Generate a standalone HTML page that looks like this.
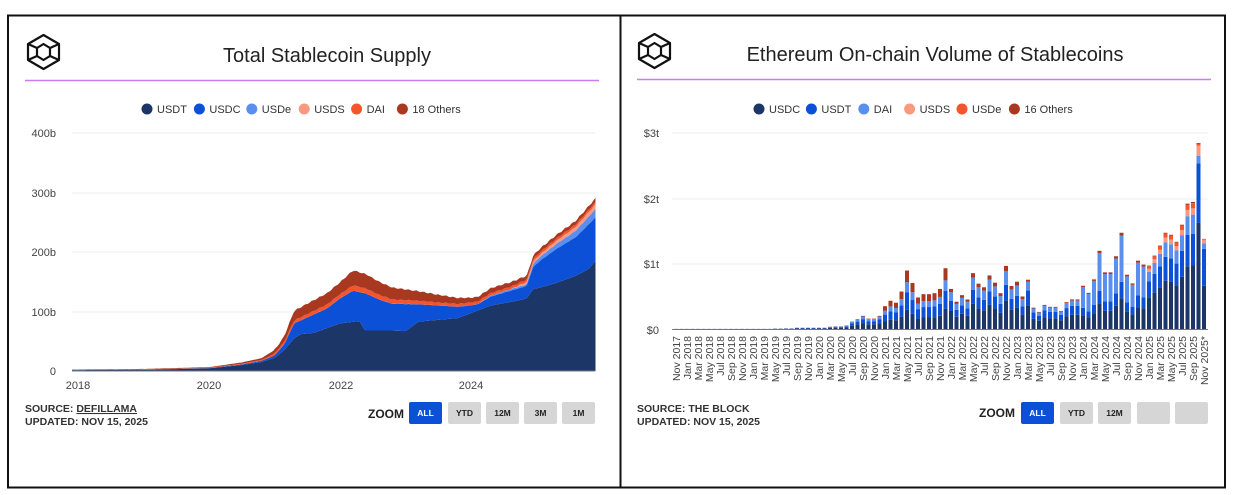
<!DOCTYPE html>
<html><head><meta charset="utf-8"><style>
html,body{margin:0;padding:0;background:#fff;width:1238px;height:495px;overflow:hidden;font-family:"Liberation Sans",Arial,sans-serif}
svg text{font-family:"Liberation Sans",Arial,sans-serif}
</style></head><body>
<svg id="s" width="1238" height="495" viewBox="0 0 1238 495" xmlns="http://www.w3.org/2000/svg">
<rect x="0" y="0" width="1238" height="495" fill="#fff"/>
<rect x="8" y="15.5" width="1217" height="472" fill="none" stroke="#111" stroke-width="2"/>
<line x1="620.5" y1="15" x2="620.5" y2="488" stroke="#111" stroke-width="2"/>
<g id="logoL" fill="none" stroke="#111" stroke-width="2.2" stroke-linejoin="round">
<polygon points="43.5,35 59,44 59,60 43.5,69 28,60 28,44"/>
<polygon points="43.5,44 50,48 50,56 43.5,60 37,56 37,48"/>
<line x1="28" y1="44" x2="37" y2="48"/><line x1="59" y1="44" x2="50" y2="48"/>
<line x1="28" y1="60" x2="37" y2="56"/><line x1="59" y1="60" x2="50" y2="56"/>
</g>
<use href="#logoL" x="611" y="-1"/>
<text x="327" y="62" font-size="20" text-anchor="middle" fill="#222">Total Stablecoin Supply</text>
<text x="935" y="61" font-size="20" text-anchor="middle" fill="#222">Ethereum On-chain Volume of Stablecoins</text>
<line x1="25" y1="80.5" x2="599" y2="80.5" stroke="#c77cf2" stroke-width="1.5"/>
<line x1="637" y1="79.5" x2="1211" y2="79.5" stroke="#c77cf2" stroke-width="1.5"/>
<g id="legL"></g><g id="legR"></g>
<g stroke="#eee" stroke-width="1">
<line x1="72" y1="133" x2="595" y2="133"/><line x1="72" y1="193" x2="595" y2="193"/>
<line x1="72" y1="252" x2="595" y2="252"/><line x1="72" y1="312" x2="595" y2="312"/>
<line x1="672" y1="133" x2="1208" y2="133"/><line x1="672" y1="199" x2="1208" y2="199"/>
<line x1="672" y1="264" x2="1208" y2="264"/>
</g>
<g font-size="11" fill="#444" text-anchor="end">
<text x="56" y="137">400b</text><text x="56" y="197">300b</text><text x="56" y="256">200b</text><text x="56" y="316">100b</text><text x="56" y="375">0</text>
<text x="659" y="137">$3t</text><text x="659" y="203">$2t</text><text x="659" y="268">$1t</text><text x="659" y="334">$0</text>
</g>
<g font-size="11" fill="#444" text-anchor="middle">
<text x="78" y="389">2018</text><text x="209" y="389">2020</text><text x="341" y="389">2022</text><text x="471" y="389">2024</text>
</g>
<g id="areas"></g>
<line x1="72" y1="371" x2="595" y2="371" stroke="#777" stroke-width="1"/>
<g id="bars"></g>
<line x1="672" y1="329.5" x2="1208" y2="329.5" stroke="#777" stroke-width="1"/>
<g id="xl" font-size="10.5" fill="#444" text-anchor="end"></g>
<g font-size="10.5" font-weight="bold" fill="#333">
<text x="25" y="412">SOURCE: <tspan text-decoration="underline">DEFILLAMA</tspan></text>
<text x="25" y="425">UPDATED: NOV 15, 2025</text>
<text x="637" y="412">SOURCE: THE BLOCK</text>
<text x="637" y="425">UPDATED: NOV 15, 2025</text>
</g>
<g font-size="12" font-weight="bold" fill="#222">
<text x="368" y="418">ZOOM</text><text x="979" y="417">ZOOM</text>
</g>
<g id="btns" font-size="8.5" font-weight="bold" text-anchor="middle"></g>
</svg>
<script>
var NS="http://www.w3.org/2000/svg";
function el(p,t,a,txt){var e=document.createElementNS(NS,t);for(var k in a)e.setAttribute(k,a[k]);if(txt!=null)e.textContent=txt;p.appendChild(e);return e;}
var C=["#1c3668","#0b50d6","#5a8ff0","#f99a80","#f4552c","#a93820"];
function legend(g,x,names){var cx=x;names.forEach(function(n,i){el(g,"circle",{cx:cx,cy:109,r:5.5,fill:C[i]});el(g,"text",{x:cx+10,y:113,"font-size":11,fill:"#333"},n);cx+=10+n.length*6.6+16;});}
legend(document.getElementById("legL"),147,["USDT","USDC","USDe","USDS","DAI","18 Others"]);
legend(document.getElementById("legR"),759,["USDC","USDT","DAI","USDS","USDe","16 Others"]);
var B=document.getElementById("btns");
[[409,"ALL",1],[448,"YTD"],[486,"12M"],[524,"3M"],[562,"1M"],[1021,"ALL",1],[1060,"YTD"],[1098,"12M"],[1137,""],[1175,""]].forEach(function(b){
el(B,"rect",{x:b[0],y:402,width:33,height:22,rx:2,fill:b[2]?"#0b50d6":"#d6d6d6"});
el(B,"text",{x:b[0]+16.5,y:416,fill:b[2]?"#fff":"#222"},b[1]);});
function interp(pts,t){if(t<=pts[0][0])return pts[0][1];for(var i=1;i<pts.length;i++){if(t<=pts[i][0]){var a=pts[i-1],b=pts[i];return a[1]+(b[1]-a[1])*(t-a[0])/(b[0]-a[0]);}}return pts[pts.length-1][1];}
var usdt=[[-0.1,1.5],[1,2],[2,4.5],[2.5,10],[2.8,15],[3,22],[3.15,35],[3.3,55],[3.4,62],[3.6,64],[3.8,72],[4,80],[4.3,84],[4.38,68],[4.8,68],[5,67],[5.2,83],[5.8,89],[6.3,110],[6.7,118],[6.85,122],[6.95,138],[7.05,140],[7.3,148],[7.6,160],[7.8,172],[7.9,185]];
var usdc=[[-0.1,1.7],[1,2.3],[2,5],[2.5,11],[2.8,17],[3,26],[3.15,45],[3.3,80],[3.5,90],[3.8,105],[4,122],[4.2,135],[4.4,130],[4.6,120],[4.8,113],[5.2,112],[5.8,108],[6.1,112],[6.3,125],[6.7,138],[6.85,143],[6.95,175],[7.05,185],[7.3,205],[7.6,225],[7.9,258]];
var usde=[[-0.1,0],[6.1,0],[6.3,2],[6.85,3],[7.0,6],[7.5,10],[7.9,14]];
var usds=[[-0.1,0],[6.6,0],[6.8,3],[7.3,5],[7.9,8]];
var dai=[[-0.1,0.2],[2,0.5],[2.8,1.5],[3.3,5],[4,7],[4.2,9],[4.8,7],[5.5,5],[6.3,4],[7,4],[7.9,4]];
var oth=[[-0.1,0.6],[2,1],[2.8,3],[3.1,8],[3.3,16],[3.6,18],[4,20],[4.2,25],[4.4,24],[4.8,20],[5.5,13],[6,8],[6.5,8],[7,6],[7.9,6]];
var layers=[usdt,usdc,usde,usds,dai,oth];
var A=document.getElementById("areas");var N=260,t0=-0.092,t1=7.9;
var prev=[];for(var i=0;i<=N;i++)prev.push(0);
layers.forEach(function(L,li){var cur=[];for(var i=0;i<=N;i++){var t=t0+(t1-t0)*i/N;var v=interp(L,t);var j=Math.sin(i*1.7)*0.8*(t>3?1:0.1);
 if(li==0)cur.push(v);else if(li==1)cur.push(Math.max(prev[i],v+j*0.3));else cur.push(prev[i]+Math.max(0,v+j*0.3));}
var d="";for(var i=0;i<=N;i++){var t=t0+(t1-t0)*i/N;d+=(i?"L":"M")+(78+65.5*t).toFixed(1)+","+(371-cur[i]*0.595).toFixed(1);}
for(var i=N;i>=0;i--){var t=t0+(t1-t0)*i/N;d+="L"+(78+65.5*t).toFixed(1)+","+(371-prev[i]*0.595).toFixed(1);}
el(A,"path",{d:d+"Z",fill:C[li]});prev=cur;});
var tot=[2,2,2,2,2,2,2,2,2,2,2,2,2,2,2,2,2,2,8,8,10,10,20,20,20,20,20,20,35,40,40,55,112,150,200,158,158,200,347,430,400,570,890,700,480,530,530,545,610,925,610,415,515,450,850,690,635,815,705,545,960,655,720,495,750,325,260,367,337,337,275,408,450,450,658,550,755,1190,862,862,1107,1465,826,694,1040,980,965,1117,1270,1465,1434,1327,1587,1908,1934,2832,1372];
function frac(i){
 if(i<38)return [0.45,0.3,0.2,0,0,0.05];
 if(i<50)return [0.33,0.3,0.17,0,0,0.2];
 if(i<64)return [0.45,0.25,0.22,0,0,0.08];
 if(i<74)return [0.48,0.3,0.18,0,0,0.04];
 if(i<86)return [0.32,0.17,0.48,0,0,0.03];
 if(i<95)return [0.5,0.25,0.15,0.05,0.04,0.01];
 if(i==95)return [0.57,0.32,0.04,0.055,0.01,0.005];
 return [0.48,0.41,0.06,0.04,0.01,0];
}
var G=document.getElementById("bars"),XL=document.getElementById("xl");
var mon=["Jan","Feb","Mar","Apr","May","Jun","Jul","Aug","Sep","Oct","Nov","Dec"];
for(var i=0;i<97;i++){var x=676+i*5.5;var f=frac(i);var y=329;var h=tot[i]*0.0657;
 f.forEach(function(fr,k){var hh=h*fr;if(hh<=0)return;el(G,"rect",{x:(x-2).toFixed(1),y:(y-hh).toFixed(2),width:4,height:hh.toFixed(2),fill:C[k]});y-=hh;});
 if(i%2==0){var m=(10+i)%12,yr=2017+Math.floor((10+i)/12);var lab=mon[m]+" "+yr+(i==96?"*":"");
 el(XL,"text",{x:0,y:0,transform:"translate("+(x+4)+",336) rotate(-90)"},lab);}
}
</script>
</body></html>
